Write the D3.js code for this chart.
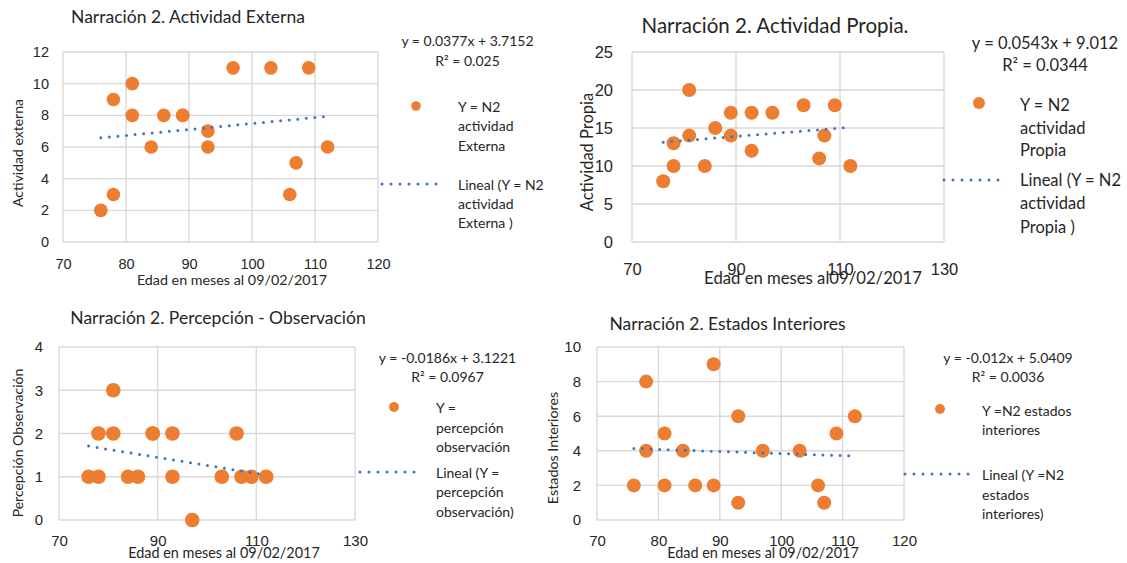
<!DOCTYPE html>
<html>
<head>
<meta charset="utf-8">
<script src="https://cdn.jsdelivr.net/npm/d3@7"></script>
<style>
  html, body { margin: 0; padding: 0; background: #fff; }
  svg { display: block; font-family: Lato, "Open Sans", sans-serif; }
</style>
</head>
<body>
<svg id="chart" width="1127" height="563"></svg>
<script>
// ---------- DATA ----------
const ages = [76, 78, 78, 81, 81, 84, 86, 89, 89, 93, 93, 97, 103, 106, 107, 109, 112];
const actividadExterna = [2, 3, 9, 10, 8, 6, 8, 8, 8, 7, 6, 11, 11, 3, 5, 11, 6];
const actividadPropia = [8, 13, 10, 20, 14, 10, 15, 17, 14, 17, 12, 17, 18, 11, 14, 18, 10];
const percepcionObservacion = [1, 2, 1, 3, 2, 1, 1, 2, 2, 2, 1, 0, 1, 2, 1, 1, 1];
const estadosInteriores = [2, 8, 4, 5, 2, 4, 2, 9, 2, 6, 1, 4, 4, 2, 1, 5, 6];

const titles = ["Narración 2. Actividad Externa", "Narración 2. Actividad Propia.",
                "Narración 2. Percepción - Observación", "Narración 2. Estados Interiores"];
const yTitles = ["Actividad externa", "Actividad Propia", "Percepción Observación", "Estados Interiores"];
const xTitles = ["Edad en meses al 09/02/2017", "Edad en meses al09/02/2017",
                 "Edad en meses al 09/02/2017", "Edad en meses al 09/02/2017"];
const slopes = [0.0377, 0.0543, -0.0186, -0.012];
const intercepts = [3.7152, 9.012, 3.1221, 5.0409];
const equations = ["y = 0.0377x + 3.7152", "y = 0.0543x + 9.012", "y = -0.0186x + 3.1221", "y = -0.012x + 5.0409"];
const r2Labels = ["R² = 0.025", "R² = 0.0344", "R² = 0.0967", "R² = 0.0036"];
const seriesLegend = [["Y = N2", "actividad", "Externa"], ["Y = N2", "actividad", "Propia"],
                      ["Y =", "percepción", "observación"], ["Y =N2 estados", "interiores"]];
const trendLegend = [["Lineal (Y = N2", "actividad", "Externa )"], ["Lineal (Y = N2", "actividad", "Propia )"],
                     ["Lineal (Y =", "percepción", "observación)"], ["Lineal (Y =N2", "estados", "interiores)"]];
const xTicks1 = [70, 80, 90, 100, 110, 120];
const xTicks2 = [70, 90, 110, 130];
const xTicks3 = [70, 90, 110, 130];
const xTicks4 = [70, 80, 90, 100, 110, 120];
const yTicks1 = [0, 2, 4, 6, 8, 10, 12];
const yTicks2 = [0, 5, 10, 15, 20, 25];
const yTicks3 = [0, 1, 2, 3, 4];
const yTicks4 = [0, 2, 4, 6, 8, 10];

// ---------- STYLE / LAYOUT ----------
const ORANGE = "#ED7D31", BLUE = "#4472C4", GRID = "#D9D9D9", TXT = "#262626";
const panels = [
  { values: actividadExterna, xTicks: xTicks1, yTicks: yTicks1,
    plot: {l: 63, r: 378, t: 52, b: 242}, tickFs: 14.5, tickGap: 14, xLabBase: 269,
    title: {x: 188, y: 16, fs: 17.5}, yTitle: {x: 17, y: 153, fs: 14}, xTitle: {x: 232, base: 285, fs: 14.3},
    r: 6.8,
    leg: {cx: 467.5, eqY: 40, r2Y: 60, fs: 14, mx: 416, my: 106, mr: 4.8, tx: 458, sy: [106, 125, 145],
          lx1: 382, lx2: 444, ly: 184, ty: [184, 203, 222]} },
  { values: actividadPropia, xTicks: xTicks2, yTicks: yTicks2,
    plot: {l: 632, r: 944, t: 52, b: 242}, tickFs: 16.5, tickGap: 19, xLabBase: 275,
    title: {x: 775, y: 25, fs: 20.5}, yTitle: {x: 587, y: 152, fs: 16.5}, xTitle: {x: 813, base: 284, fs: 16.7},
    r: 7,
    leg: {cx: 1045, eqY: 43, r2Y: 65, fs: 16.5, mx: 979, my: 103, mr: 6, tx: 1020, sy: [105, 128, 150],
          lx1: 944, lx2: 1007, ly: 180, ty: [180, 203, 227]} },
  { values: percepcionObservacion, xTicks: xTicks3, yTicks: yTicks3,
    plot: {l: 59, r: 355, t: 347, b: 520}, tickFs: 15, tickGap: 16, xLabBase: 546,
    title: {x: 218, y: 317, fs: 17.5}, yTitle: {x: 17, y: 443, fs: 14}, xTitle: {x: 224, base: 558, fs: 14.4},
    r: 7.3,
    leg: {cx: 447.5, eqY: 357, r2Y: 376, fs: 14, mx: 394, my: 407, mr: 5, tx: 436, sy: [407, 427, 446],
          lx1: 360, lx2: 422, ly: 472, ty: [472, 491, 511]} },
  { values: estadosInteriores, xTicks: xTicks4, yTicks: yTicks4,
    plot: {l: 597, r: 904, t: 347, b: 520}, tickFs: 15, tickGap: 16, xLabBase: 546,
    title: {x: 727.5, y: 323, fs: 17.5}, yTitle: {x: 552, y: 448, fs: 14.3}, xTitle: {x: 763, base: 558, fs: 14.4},
    r: 7,
    leg: {cx: 1008, eqY: 357, r2Y: 376, fs: 14, mx: 940, my: 409, mr: 5, tx: 982, sy: [410, 429],
          lx1: 905, lx2: 969, ly: 474, ty: [474, 494, 513]} }
];

const svg = d3.select("#chart");

panels.forEach((p, i) => {
  const g = svg.append("g");
  const x = d3.scaleLinear().domain(d3.extent(p.xTicks)).range([p.plot.l, p.plot.r]);
  const y = d3.scaleLinear().domain(d3.extent(p.yTicks)).range([p.plot.b, p.plot.t]);

  // gridlines (form the box too)
  g.append("g").selectAll("line").data(p.yTicks).join("line")
    .attr("x1", p.plot.l).attr("x2", p.plot.r)
    .attr("y1", d => y(d)).attr("y2", d => y(d))
    .attr("stroke", GRID).attr("stroke-width", 1.4);
  g.append("g").selectAll("line").data(p.xTicks).join("line")
    .attr("y1", p.plot.t).attr("y2", p.plot.b)
    .attr("x1", d => x(d)).attr("x2", d => x(d))
    .attr("stroke", GRID).attr("stroke-width", 1.4);

  // axes (labels only)
  const yAxis = g.append("g").attr("transform", `translate(${p.plot.l - p.tickGap},0)`)
    .call(d3.axisLeft(y).tickValues(p.yTicks).tickSize(0).tickPadding(0).tickFormat(d3.format("d")));
  yAxis.select(".domain").remove();
  yAxis.selectAll("text").attr("font-size", p.tickFs).attr("fill", TXT).attr("font-family", null);

  const xAxis = g.append("g").attr("transform", `translate(0,${p.xLabBase})`)
    .call(d3.axisBottom(x).tickValues(p.xTicks).tickSize(0).tickPadding(0).tickFormat(d3.format("d")));
  xAxis.select(".domain").remove();
  xAxis.selectAll("text").attr("font-size", p.tickFs).attr("fill", TXT).attr("font-family", null)
    .attr("y", 0).attr("dy", null);

  // points
  g.append("g").selectAll("circle").data(ages.map((a, k) => [a, p.values[k]])).join("circle")
    .attr("cx", d => x(d[0])).attr("cy", d => y(d[1])).attr("r", p.r).attr("fill", ORANGE);

  // trend line
  const xr = d3.extent(ages);
  const line = d3.line().x(d => x(d)).y(d => y(slopes[i] * d + intercepts[i]));
  g.append("path").datum(xr).attr("d", line)
    .attr("fill", "none").attr("stroke", BLUE).attr("stroke-width", 3)
    .attr("stroke-linecap", "round").attr("stroke-dasharray", "0 8.6");

  // titles
  g.append("text").attr("x", p.title.x).attr("y", p.title.y).attr("text-anchor", "middle")
    .attr("dominant-baseline", "central").attr("font-size", p.title.fs).attr("fill", TXT).text(titles[i]);
  g.append("text").attr("transform", `translate(${p.yTitle.x},${p.yTitle.y}) rotate(-90)`)
    .attr("text-anchor", "middle").attr("dominant-baseline", "central")
    .attr("font-size", p.yTitle.fs).attr("fill", TXT).text(yTitles[i]);
  g.append("text").attr("x", p.xTitle.x).attr("y", p.xTitle.base).attr("text-anchor", "middle")
    .attr("font-size", p.xTitle.fs).attr("fill", TXT).text(xTitles[i]);

  // legend
  const L = p.leg;
  g.append("text").attr("x", L.cx).attr("y", L.eqY).attr("text-anchor", "middle").attr("dominant-baseline", "central")
    .attr("font-size", L.fs).attr("fill", TXT).text(equations[i]);
  g.append("text").attr("x", L.cx).attr("y", L.r2Y).attr("text-anchor", "middle").attr("dominant-baseline", "central")
    .attr("font-size", L.fs).attr("fill", TXT).text(r2Labels[i]);
  g.append("circle").attr("cx", L.mx).attr("cy", L.my).attr("r", L.mr).attr("fill", ORANGE);
  g.append("g").selectAll("text").data(seriesLegend[i]).join("text")
    .attr("x", L.tx).attr("y", (d, k) => L.sy[k]).attr("dominant-baseline", "central")
    .attr("font-size", L.fs).attr("fill", TXT).text(d => d);
  g.append("line").attr("x1", L.lx1).attr("x2", L.lx2).attr("y1", L.ly).attr("y2", L.ly)
    .attr("stroke", BLUE).attr("stroke-width", 3).attr("stroke-linecap", "round").attr("stroke-dasharray", "0 9");
  g.append("g").selectAll("text").data(trendLegend[i]).join("text")
    .attr("x", L.tx).attr("y", (d, k) => L.ty[k]).attr("dominant-baseline", "central")
    .attr("font-size", L.fs).attr("fill", TXT).text(d => d);
});
</script>
</body>
</html>
